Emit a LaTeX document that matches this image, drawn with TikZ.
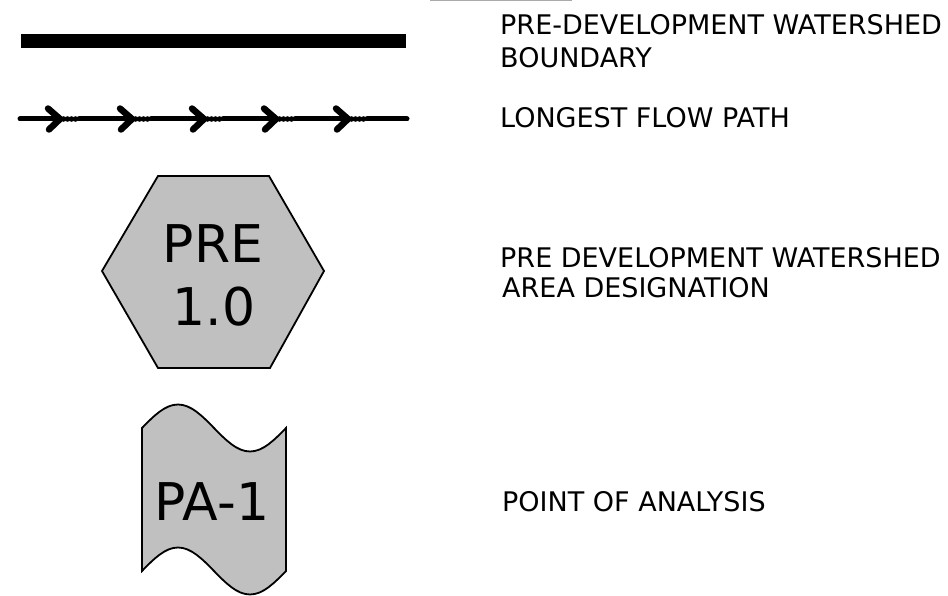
\documentclass[tikz,border=0pt]{standalone}
\usepackage{fontspec}
\setmainfont{DejaVu Sans}
\definecolor{shapegray}{RGB}{192,192,192}
\definecolor{rulegray}{RGB}{170,170,170}
\begin{document}
\begin{tikzpicture}[x=1pt,y=-1pt,
  label/.style={anchor=base west,inner sep=0pt,font=\fontsize{27}{33}\selectfont},
  bigtext/.style={anchor=base,inner sep=0pt,font=\fontsize{52}{63}\selectfont},
  symshape/.style={draw=black,line width=1.8pt,fill=shapegray,line join=miter},
  flowline/.style={line width=5pt,line cap=round},
  chevron/.style={line width=6.5pt,line cap=round,line join=round},
  bead/.style={fill=black}]
\useasboundingbox (0,0) rectangle (948,596);
% faint rule at top
\draw[rulegray,line width=1.5pt] (430,0.75) -- (572,0.75);
% watershed boundary
\fill (21,34) rectangle (406,48);
% longest flow path
\coordinate (fstart) at (20,119);
\coordinate (fend) at (407,119);
\foreach \t [count=\i] in {60,132,204,276,348}{
  \coordinate (tip\i) at (\t,119);
}
\draw[flowline] (fstart) -- (tip1);
\foreach \i/\j in {1/2,2/3,3/4,4/5}{
  \draw[flowline] ([xshift=19pt]tip\i) -- (tip\j);
}
\draw[flowline] ([xshift=19pt]tip5) -- (fend);
\foreach \t in {60,132,204,276,348}{
  \draw[chevron] (\t-12,108.5) -- (\t,119) -- (\t-11,129.5);
  \foreach \k in {3.5,7.5,11.5,15.5}{
    \fill[bead] (\t+\k,119) circle [radius=2.8pt];
  }
}
% hexagon
\draw[symshape] (158,176) -- (269,176) -- (324,271) -- (270,368) -- (158,368) -- (102,271) -- cycle;
\node[bigtext] (pre) at (213,262) {PRE};
\node[bigtext] (pren) at (214,325) {1.0};
% point of analysis shape
\draw[symshape] (142,571) -- (142,428) sin (178,404.5) cos (214,428) sin (250,451.5) cos (286,428)
  -- (286,571) sin (250,594.5) cos (214,571) sin (178,547.5) cos (142,571) -- cycle;
\node[bigtext] (pa) at (212,520) {PA-1};
% labels
\node[label] (l1a) at (500,35) {PRE-DEVELOPMENT WATERSHED};
\node[label] (l1b) at (500,68) {BOUNDARY};
\node[label] (l2) at (500,128) {LONGEST FLOW PATH};
\node[label] (l3a) at (500,267) {PRE DEVELOPMENT WATERSHED};
\node[label] (l3b) at (502,298) {AREA DESIGNATION};
\node[label] (l4) at (502,511) {POINT OF ANALYSIS};
\end{tikzpicture}
\end{document}
